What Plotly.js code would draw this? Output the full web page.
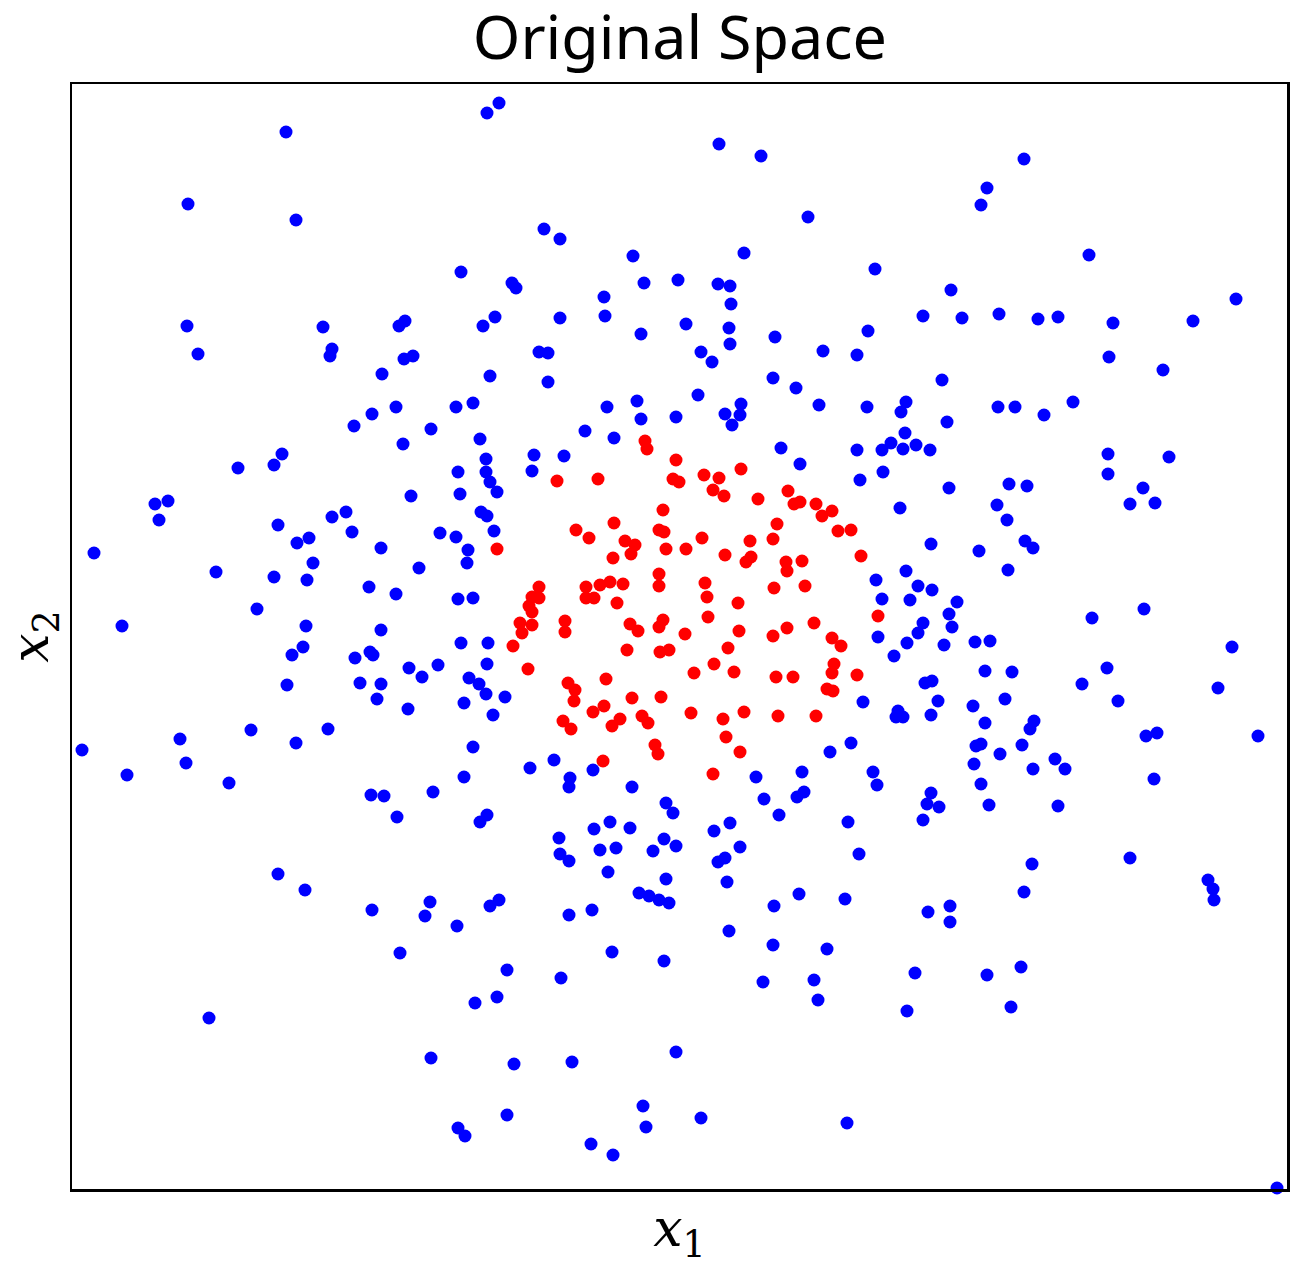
<!DOCTYPE html>
<html>
<head>
<meta charset="utf-8">
<script src="https://cdn.plot.ly/plotly-3.0.1.min.js"></script>
<style>html,body{margin:0;padding:0;background:#fff;}#chart{width:1305px;height:1266px;}</style>
</head>
<body>
<div id="chart"></div>
<script>
// Outer class (blue) points
const outerX = [-3.94,-4.92,-3.84,-4.93,-3.57,-4.82,-3.48,-3.50,-2.98,-3.08,-3.26,-3.98,-1.81,-1.93,-1.36,-1.20,-2.19,-0.47,-1.68,-1.64,
-0.36,-0.02,-0.76,-0.75,-2.81,-2.75,-1.97,-1.85,-1.20,-0.39,-2.76,-2.67,-1.41,-1.32,-1.90,-1.32,-2.84,-2.24,-2.07,-0.73,
-0.43,-0.39,-0.04,-2.49,-0.95,-0.66,-2.77,-2.00,0.39,0.81,3.07,3.01,1.28,0.64,1.95,0.38,0.50,0.51,2.71,0.06,
0.49,0.50,0.95,2.43,2.82,1.88,0.21,0.32,1.43,1.77,0.93,1.16,0.18,2.62,0.61,0.45,0.60,0.52,1.39,1.87,
2.26,2.21,2.67,2.25,3.44,4.09,5.56,3.19,3.58,3.78,4.33,5.13,4.29,4.83,3.18,3.35,3.64,3.93,-4.06,-4.42,
-5.25,-5.12,-5.21,-5.86,-4.02,-3.83,-3.71,-3.48,-3.34,-3.28,-2.99,-4.64,-4.06,-3.73,-3.67,-3.11,-4.23,-5.58,-3.74,-2.99,
-3.77,-3.88,-3.25,-3.10,-3.07,-3.93,-3.20,-2.99,-3.03,-4.29,-5.00,-3.84,-3.52,-5.98,-4.94,-5.53,-4.51,-3.09,-2.96,-1.94,
-1.94,-1.90,-1.83,-1.46,-1.16,-1.48,-2.22,-2.20,-2.69,-1.99,-1.93,-1.86,-2.40,-2.24,-2.12,-2.13,-2.61,-2.84,-2.22,-2.07,
-2.19,-1.92,-1.93,-2.71,-2.58,-2.42,-2.11,-2.01,-1.94,-1.75,-2.16,-2.72,-1.87,-2.07,-1.50,-1.26,-1.10,-1.11,-0.87,-0.48,
-0.14,-0.07,-2.16,-2.47,-2.83,-1.93,-2.00,-0.70,1.01,1.77,2.02,2.11,2.23,2.36,2.50,1.20,1.80,2.03,2.69,2.20,
2.51,2.99,2.26,1.96,2.38,2.52,2.02,2.30,2.77,2.69,2.72,2.43,2.38,1.98,2.27,2.64,2.14,2.95,3.10,3.05,
2.45,2.52,1.83,2.58,2.93,2.18,2.16,2.23,2.51,3.05,1.71,1.50,2.96,3.01,2.94,1.93,1.97,1.22,0.76,0.84,
1.17,1.24,0.99,2.51,2.47,2.59,3.01,3.09,0.50,1.68,2.43,4.28,4.89,4.28,3.29,3.47,4.63,3.17,4.50,4.75,
3.27,3.45,3.53,3.28,4.12,4.64,5.52,3.32,4.27,4.02,5.38,3.25,4.38,3.54,3.50,3.42,3.20,4.66,4.77,5.78,
3.75,3.85,3.53,4.74,3.78,-4.02,-3.75,-3.08,-4.71,-1.21,-1.20,-1.11,-0.86,-0.50,-0.80,-0.64,-0.72,-0.16,-0.04,-0.27,
-0.14,-0.41,-0.31,-0.21,-0.11,-2.50,-2.55,-2.23,-1.90,-1.81,-1.11,-0.88,-2.80,-1.73,-1.19,-0.68,-0.16,-1.83,-2.05,-2.49,
-1.66,-1.08,-0.04,-0.37,-0.34,-1.73,-2.22,-2.15,-0.89,-0.67,0.34,0.60,0.38,0.45,1.79,0.47,1.19,0.94,1.65,2.48,
2.70,2.70,0.49,0.93,1.47,2.35,3.07,0.83,1.34,1.38,2.27,0.21,1.67,3.52,4.50,5.28,5.33,5.34,3.44,3.41,
3.31,5.97];
const outerY = [5.05,4.33,4.17,3.11,3.10,2.83,2.88,2.81,2.63,2.23,2.11,1.83,5.34,5.24,4.08,3.98,3.65,3.81,3.54,3.49,
3.54,3.57,3.40,3.21,3.11,3.16,3.11,3.20,3.19,3.03,2.78,2.81,2.85,2.84,2.61,2.55,2.30,2.30,2.34,2.30,
2.36,2.18,2.20,2.08,2.06,1.99,1.93,1.98,4.93,4.81,4.49,4.32,4.20,3.84,3.68,3.53,3.51,3.33,3.47,3.13,
3.09,2.93,3.00,3.21,3.19,3.06,2.85,2.75,2.86,2.82,2.59,2.49,2.42,2.57,2.33,2.23,2.22,2.12,2.32,2.30,
2.35,2.25,2.15,2.04,4.78,3.82,3.38,3.23,3.18,3.20,3.14,3.16,2.80,2.67,2.30,2.30,2.22,2.35,1.72,1.69,
1.33,1.36,1.17,0.84,1.12,0.94,0.99,1.20,1.25,1.05,0.89,0.65,0.60,0.57,0.74,0.50,0.28,0.11,0.11,0.07,
-0.10,-0.18,-0.21,-0.15,-0.18,-0.48,-0.46,-0.47,-0.62,-0.93,-1.02,-1.06,-0.92,-1.13,-1.26,-1.38,-1.46,-1.58,-1.59,1.78,
1.65,1.55,1.45,1.82,1.81,1.66,1.65,1.43,1.41,1.25,1.21,1.06,1.04,1.00,0.87,0.74,0.69,0.43,0.38,0.39,
-0.06,-0.06,-0.27,-0.31,-0.40,-0.28,-0.41,-0.47,-0.57,-0.60,-0.66,-0.72,-0.78,-1.10,-1.31,-1.23,-1.41,-1.50,-1.33,-1.50,
-1.66,-1.76,-1.40,-1.55,-1.80,-1.78,-1.85,-1.85,1.89,1.87,1.87,1.94,1.88,1.92,1.87,1.73,1.57,1.65,1.49,1.29,
0.93,0.86,0.66,0.57,0.51,0.47,0.38,0.37,0.35,0.23,0.10,0.14,0.04,0.00,-0.06,-0.08,-0.19,-0.05,-0.04,-0.34,
-0.46,-0.44,-0.65,-0.64,-0.69,-0.74,-0.80,-0.80,-0.78,-0.86,-1.06,-1.15,-1.09,-1.07,-1.27,-1.35,-1.48,-1.35,-1.40,-1.62,
-1.60,-1.55,-1.78,-1.56,-1.67,-1.70,-1.47,-1.68,-1.86,-1.85,-1.83,1.83,1.80,1.63,1.53,1.51,1.49,1.32,1.33,1.34,
1.17,0.96,0.89,0.67,0.19,0.28,-0.10,-0.35,-0.31,-0.47,-0.51,-0.62,-0.64,-0.84,-0.92,-1.08,-1.17,-0.99,-0.96,-0.99,
-1.22,-1.32,-1.32,-1.42,-1.69,-2.37,-2.53,-2.73,-3.81,-2.01,-2.17,-2.24,-1.92,-1.91,-2.13,-2.11,-2.35,-2.02,-2.09,-2.14,
-2.42,-2.56,-2.59,-2.63,-2.66,-2.65,-2.79,-2.89,-2.69,-2.63,-2.78,-2.73,-3.16,-3.33,-3.41,-3.15,-3.24,-3.60,-3.66,-4.21,
-4.27,-4.25,-4.15,-4.69,-4.90,-4.78,-4.91,-4.99,-5.07,-5.18,-1.94,-2.10,-2.25,-2.21,-2.17,-2.45,-2.57,-2.69,-2.62,-2.75,
-2.69,-2.85,-2.94,-3.08,-3.12,-3.36,-3.38,-3.45,-3.43,-3.63,-3.74,-4.81,-4.86,-2.27,-2.21,-2.43,-2.52,-2.63,-2.55,-3.30,
-3.70,-5.51];

// Inner class (red) points
const innerX = [-0.35,-0.33,-0.04,-0.07,-0.01,-1.23,-0.82,-1.83,-0.17,-1.04,-0.91,-0.66,-0.21,-0.16,-0.55,-0.45,-0.49,-0.67,-0.14,-0.21,
-0.21,-1.41,-1.48,-1.41,-1.51,-1.48,-1.60,-1.48,-1.58,-1.67,-1.52,-0.94,-0.94,-0.86,-0.80,-0.70,-0.57,-0.63,-1.15,-1.15,
-0.50,-0.42,-0.17,-0.21,-0.53,-0.20,-0.11,-1.12,-1.05,-1.06,-0.74,-0.48,-0.19,-0.87,-0.76,-1.17,-1.09,-0.68,-0.60,-0.38,
-0.32,-0.25,-0.22,-0.77,0.24,0.39,0.61,0.33,0.44,0.78,1.08,1.14,1.20,1.36,1.52,1.42,0.97,1.58,1.71,0.22,
0.06,0.70,0.93,0.45,0.66,0.71,1.06,1.07,1.22,1.81,0.25,0.27,0.58,0.28,0.94,1.25,0.05,0.59,0.93,1.07,
1.34,1.52,1.61,1.98,0.48,0.34,0.14,0.54,1.54,1.52,0.96,1.13,1.77,1.47,1.53,0.11,0.43,0.64,0.98,1.36,
0.46,0.60,0.33];
const innerY = [1.96,1.88,1.77,1.58,1.55,1.56,1.58,0.88,1.27,1.07,0.99,1.14,1.07,1.05,0.96,0.92,0.83,0.79,0.88,0.63,
0.51,0.50,0.40,0.39,0.31,0.25,0.14,0.12,0.04,-0.09,-0.32,0.50,0.39,0.39,0.52,0.55,0.53,0.34,0.16,0.05,
0.13,0.06,0.17,0.10,-0.13,-0.15,-0.13,-0.46,-0.53,-0.64,-0.42,-0.61,-0.60,-0.75,-0.69,-0.84,-0.92,-0.89,-0.82,-0.79,
-0.86,-1.08,-1.17,-1.24,1.62,1.59,1.68,1.47,1.41,1.38,1.46,1.33,1.35,1.33,1.26,1.21,1.13,1.06,1.07,0.99,
0.88,0.96,0.98,0.82,0.75,0.80,0.75,0.66,0.76,0.81,0.54,0.40,0.34,0.20,0.49,0.51,0.03,0.06,0.01,0.09,
0.14,-0.01,-0.09,0.21,-0.11,-0.27,-0.36,-0.35,-0.27,-0.36,-0.40,-0.40,-0.38,-0.52,-0.54,-0.76,-0.82,-0.75,-0.79,-0.79,
-1.00,-1.15,-1.37];

const xRange = [-6.08, 6.07];
const yRange = [-5.52, 5.53];

const traces = [
  {x: outerX, y: outerY, type: 'scatter', mode: 'markers', name: 'outer',
   marker: {color: '#0000ff', size: 13, line: {width: 0}}, cliponaxis: false},
  {x: innerX, y: innerY, type: 'scatter', mode: 'markers', name: 'inner',
   marker: {color: '#ff0000', size: 13, line: {width: 0}}, cliponaxis: false}
];

const axisBase = {showgrid: false, zeroline: false, showticklabels: false, ticks: '',
  showline: true, mirror: true, linecolor: '#000', linewidth: 2.5};

const layout = {
  width: 1305, height: 1266,
  margin: {l: 72, r: 18, t: 84, b: 77},
  paper_bgcolor: '#fff', plot_bgcolor: '#fff',
  showlegend: false,
  title: {text: 'Original Space', x: 0.521, xanchor: 'center', xref: 'container',
          y: 0.031, yanchor: 'middle', yref: 'container',
          font: {family: 'Noto Sans, sans-serif', size: 61, color: '#000'}},
  xaxis: Object.assign({}, axisBase, {range: xRange,
    title: {text: '<i>x</i><sub>1</sub>', standoff: 28,
            font: {family: 'DejaVu Serif, serif', size: 52, color: '#000'}}}),
  yaxis: Object.assign({}, axisBase, {range: yRange,
    title: {text: '<i>x</i><sub>2</sub>', standoff: 10,
            font: {family: 'DejaVu Serif, serif', size: 52, color: '#000'}}})
};
// title y is measured from bottom in container coords
layout.title.y = 1 - 38 / 1266;

Plotly.newPlot('chart', traces, layout, {displayModeBar: false, staticPlot: true});
</script>
</body>
</html>
